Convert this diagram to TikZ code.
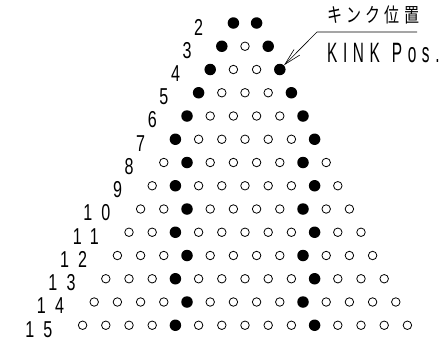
\documentclass[tikz,border=0pt]{standalone}
\usepackage{fontspec}
\usetikzlibrary{arrows.meta}
\newfontfamily\rowfont[FakeStretch=0.7,LetterSpace=40]{Liberation Sans}
\newfontfamily\kinkfont[FakeStretch=0.55,LetterSpace=20]{Liberation Sans}
\newfontfamily\jpfont[FakeStretch=0.75,LetterSpace=22]{Noto Sans CJK JP}
\tikzset{
  >={Straight Barb[length=17pt,width=8pt]},
  holedot/.style={circle,draw=black,line width=0.8pt,fill=white,
                  minimum size=8.5pt,inner sep=0pt},
  kinkdot/.style={circle,fill=black,minimum size=11.5pt,inner sep=0pt},
  rowlabel/.style={anchor=east,inner sep=0pt,
                   font=\rowfont\fontsize{23}{23}\selectfont},
  leader/.style={line width=0.6pt},
}
\begin{document}
\begin{tikzpicture}[x=1pt,y=-1pt]
  \useasboundingbox (0,0) rectangle (445,349);
  % one row per strand count, kink dots filled
  \foreach \n in {2,...,15}{
    \pgfmathtruncatemacro\lft{max(1,floor(\n/2)-2)}
    \pgfmathtruncatemacro\rgt{\n+1-\lft}
    \pgfmathsetmacro\ypos{23+(\n-2)*23.25}
    \foreach \k in {1,...,\n}{
      \pgfmathsetmacro\xpos{245+(\k-(\n+1)/2)*23.2}
      \def\sty{holedot}
      \ifnum\k=\lft\def\sty{kinkdot}\fi
      \ifnum\k=\rgt\def\sty{kinkdot}\fi
      \node[\sty] (d-\n-\k) at (\xpos,\ypos) {};
    }
    \pgfmathsetmacro\xlbl{245-(\n-1)/2*23.2-30}
    \node[rowlabel] (r-\n) at (\xlbl,\ypos+4) {\n};
  }
  % callout to the kink position
  \node[anchor=west,inner sep=0pt,font=\jpfont\fontsize{20}{20}\selectfont]
    (kink-jp) at (327,15) {キンク位置};
  \node[anchor=west,inner sep=0pt,font=\kinkfont\fontsize{28}{28}\selectfont]
    (kink-en) at (327,53) {KINK\hspace{12pt}Pos.};
  \coordinate (bend) at (317,32);
  \coordinate (lead-end) at (417,32);
  \draw[leader,<-] (d-4-4) -- (bend) -- (lead-end);
\end{tikzpicture}
\end{document}
